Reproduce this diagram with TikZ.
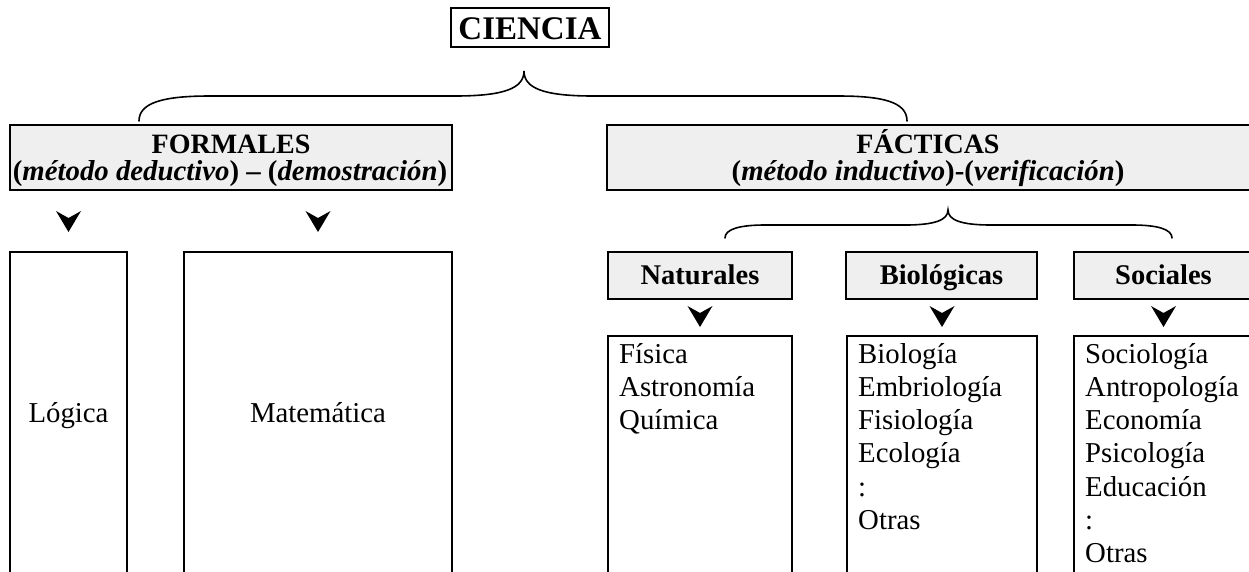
\documentclass[tikz,border=0pt]{standalone}
\usepackage{fontspec}
\setmainfont{Liberation Serif}
\definecolor{headgray}{RGB}{239,239,239}
\newcommand{\regsize}{\fontsize{28.8}{33}\selectfont}
\newcommand{\headsize}{\fontsize{28.5}{33}\selectfont\bfseries}
\newcommand{\subsize}{\fontsize{28.8}{33}\selectfont\bfseries}
\newcommand{\bigsize}{\fontsize{28}{33}\selectfont\bfseries}
\newcommand{\topsize}{\fontsize{33}{36}\selectfont\bfseries}
\begin{document}
\begin{tikzpicture}[x=1pt,y=-1pt,
  box/.style={draw,line width=2pt,inner sep=0pt},
  headbox/.style={box,fill=headgray},
  catbox/.style={headbox,minimum height=47pt,text height=21pt,text depth=4pt,font=\headsize},
  listbox/.style={box,minimum height=264pt},
  listtxt/.style={anchor=base west,inner sep=0pt,font=\regsize},
  basetxt/.style={anchor=base,inner sep=0pt},
  brace/.style={line width=1.6pt,line cap=round},
  downtip/.pic={\fill (-12.5,0) -- (0,7) -- (12.5,0) -- (0,21) -- cycle;}
]
\useasboundingbox (0,0) rectangle (1249,571);
\clip (0,0) rectangle (1249,571);

% top
\node[box,minimum width=158pt,minimum height=39pt,text height=23.5pt,text depth=0pt,font=\topsize] (ciencia) at (530,27.5) {CIENCIA};

% main category boxes
\node[headbox,minimum width=442pt,minimum height=65pt] (formales) at (231,157) {};
\node[headbox,minimum width=646pt,minimum height=65pt] (facticas) at (930,157) {};
\node[basetxt,font=\bigsize] (formT) at (231,153) {FORMALES};
\node[basetxt,font=\subsize] (formS) at (230,180) {(\textit{método deductivo}) – (\textit{demostración})};
\node[basetxt,font=\bigsize] (factT) at (928,153) {FÁCTICAS};
\node[basetxt,font=\subsize] (factS) at (928,180) {(\textit{método inductivo})-(\textit{verificación})};

% top brace
\coordinate (tb1) at (139,121);
\coordinate (tbtip) at (524,71);
\coordinate (tb2) at (907,121);
\draw[brace] (tb1) .. controls (139,102) and (165,96) .. (210,96) -- (455,96)
  .. controls (505,96) and (524,88) .. (tbtip)
  .. controls (524,88) and (543,96) .. (593,96) -- (838,96)
  .. controls (883,96) and (907,102) .. (tb2);

% formal sciences
\node[box,minimum width=117pt,minimum height=348pt] (logica) at (68.5,426) {};
\node[box,minimum width=268pt,minimum height=348pt] (matematica) at (318,426) {};
\node[basetxt,font=\regsize] (logT) at (68.5,422) {Lógica};
\node[basetxt,font=\regsize] (matT) at (318,422) {Matemática};
\pic at ([yshift=40pt]logica.north) {downtip};
\pic at ([yshift=40pt]matematica.north) {downtip};

% lower brace
\coordinate (lb1) at (725,238);
\coordinate (lbtip) at (948,210);
\coordinate (lb2) at (1172,238);
\draw[brace] (lb1) .. controls (725,229) and (740,225) .. (765,225) -- (905,225)
  .. controls (935,225) and (948,220) .. (lbtip)
  .. controls (948,220) and (961,225) .. (991,225) -- (1132,225)
  .. controls (1157,225) and (1172,229) .. (lb2);

% factual subcategories
\node[catbox,minimum width=184pt] (nat) at (700,275.5) {Naturales};
\node[catbox,minimum width=191pt] (bio) at (941.5,275.5) {Biológicas};
\node[catbox,minimum width=179pt] (soc) at (1163.5,275.5) {Sociales};

\node[listbox,minimum width=184pt] (natL) at (700,468) {};
\node[listbox,minimum width=190pt] (bioL) at (942,468) {};
\node[listbox,minimum width=179pt] (socL) at (1163.5,468) {};

\pic at ([yshift=29pt]natL.north) {downtip};
\pic at ([yshift=29pt]bioL.north) {downtip};
\pic at ([yshift=29pt]socL.north) {downtip};

\foreach \t [count=\i] in {Física,Astronomía,Química}
  \node[listtxt] (natI\i) at (619,{363+33.3*(\i-1)}) {\t};
\foreach \t [count=\i] in {Biología,Embriología,Fisiología,Ecología,:,Otras}
  \node[listtxt] (bioI\i) at (858,{363+33.3*(\i-1)}) {\t};
\foreach \t [count=\i] in {Sociología,Antropología,Economía,Psicología,Educación,:,Otras}
  \node[listtxt] (socI\i) at (1085,{363+33.3*(\i-1)}) {\t};
\end{tikzpicture}
\end{document}
